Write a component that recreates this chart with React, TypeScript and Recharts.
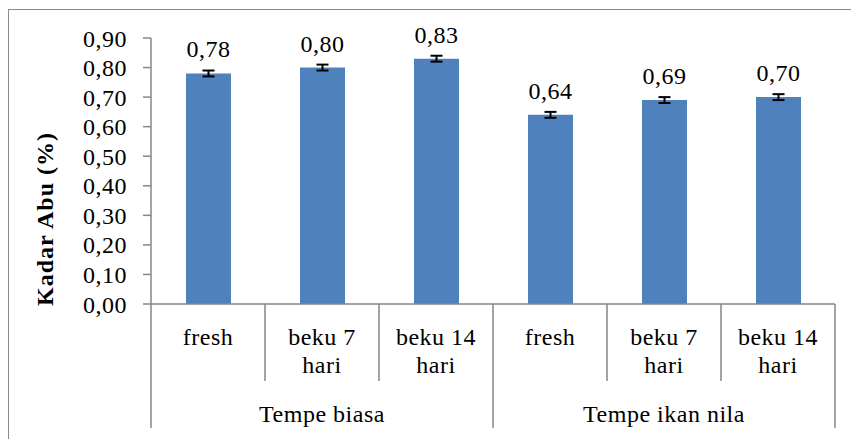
import React from "react";
import {
  BarChart,
  Bar,
  XAxis,
  YAxis,
  ErrorBar,
  LabelList,
  Label,
} from "recharts";

const categories = [
  "fresh",
  "beku 7\nhari",
  "beku 14\nhari",
  "fresh",
  "beku 7\nhari",
  "beku 14\nhari",
];
const groups = [
  "Tempe biasa",
  "Tempe biasa",
  "Tempe biasa",
  "Tempe ikan nila",
  "Tempe ikan nila",
  "Tempe ikan nila",
];
const kadarAbu = [0.78, 0.8, 0.83, 0.64, 0.69, 0.7];
const errors = [0.01, 0.01, 0.01, 0.01, 0.01, 0.01];
const yTicks = [0, 0.1, 0.2, 0.3, 0.4, 0.5, 0.6, 0.7, 0.8, 0.9];

const data = categories.map((c, i) => ({
  name: c,
  group: groups[i],
  value: kadarAbu[i],
  err: errors[i],
}));

const FONT = "Liberation Serif, Times New Roman, serif";
const AXIS = "#868686";
const txt = { fontFamily: FONT, fontSize: 24, letterSpacing: 0.5 };

const fmt = (v: number) => v.toFixed(2).replace(".", ",");

// x tick: category text + separator lines + group label under the middle bar
const CategoryTick = (props: any) => {
  const { x, y, payload, index } = props;
  const half = payload.offset ?? 0;
  const lines = String(categories[index]).split("\n");
  const first = index % 3 === 0;
  const middle = index % 3 === 1;
  const last = index === categories.length - 1;
  return (
    <g>
      <line
        x1={x - half}
        x2={x - half}
        y1={y}
        y2={y + (first ? 124 : 77)}
        stroke={AXIS}
        strokeWidth={1.5}
      />
      {last && (
        <line
          x1={x + half}
          x2={x + half}
          y1={y}
          y2={y + 124}
          stroke={AXIS}
          strokeWidth={1.5}
        />
      )}
      <text textAnchor="middle" fill="#000" style={txt}>
        {lines.map((l, i) => (
          <tspan key={i} x={x} y={y + 41 + i * 28}>
            {l}
          </tspan>
        ))}
      </text>
      {middle && (
        <text x={x} y={y + 118} textAnchor="middle" fill="#000" style={txt}>
          {groups[index]}
        </text>
      )}
    </g>
  );
};

export default function App() {
  return (
    <div
      style={{
        position: "fixed",
        left: 0,
        top: 0,
        width: 851,
        height: 439,
        overflow: "hidden",
        background: "#fff",
      }}
    >
      <div
        style={{
          position: "absolute",
          left: 8,
          top: 9,
          width: 900,
          height: 500,
          border: "1px solid #8c8c8c",
        }}
      />
      <div style={{ position: "absolute", left: 0, top: 0 }}>
        <BarChart
          width={851}
          height={439}
          data={data}
          margin={{ top: 38, right: 16, left: 0, bottom: 0 }}
        >
          <YAxis
            width={151}
            domain={[0, 0.9]}
            ticks={yTicks}
            interval={0}
            tickFormatter={fmt}
            stroke={AXIS}
            strokeWidth={1.5}
            tickSize={8}
            tickMargin={16}
            tick={{ fill: "#000", style: txt }}
          >
            <Label
              content={({ viewBox }: any) => {
                const cx = 45;
                const cy = viewBox.y + viewBox.height / 2 + 48;
                return (
                  <text
                    x={cx}
                    y={cy}
                    transform={`rotate(-90, ${cx}, ${cy})`}
                    textAnchor="middle"
                    dominantBaseline="central"
                    fill="#000"
                    style={{
                      fontFamily: FONT,
                      fontWeight: "bold",
                      fontSize: 24,
                      letterSpacing: 1,
                    }}
                  >
                    Kadar Abu (%)
                  </text>
                );
              }}
            />
          </YAxis>
          <XAxis
            dataKey="name"
            height={135}
            interval={0}
            stroke={AXIS}
            strokeWidth={1.5}
            tickLine={false}
            tickSize={0}
            tickMargin={0}
            tick={<CategoryTick />}
          />
          <Bar
            dataKey="value"
            fill="#4F81BD"
            barSize={45}
            isAnimationActive={false}
          >
            <ErrorBar
              dataKey="err"
              width={6}
              stroke="#000"
              strokeWidth={2}
              direction="y"
            />
            <LabelList
              dataKey="value"
              position="top"
              offset={16}
              formatter={(v: any) => fmt(Number(v))}
              fill="#000"
              style={txt}
            />
          </Bar>
        </BarChart>
      </div>
    </div>
  );
}
